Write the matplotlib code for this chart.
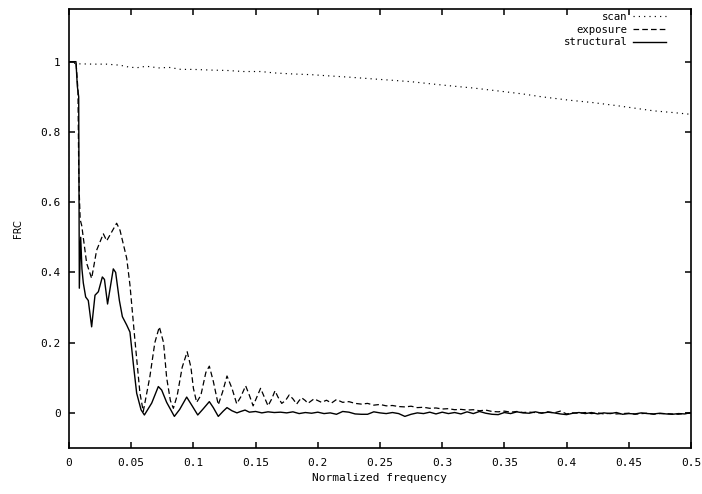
import matplotlib
matplotlib.use("Agg")
import matplotlib.pyplot as plt

# ---------------- data ----------------
scan_f = [0, 0.006, 0.02, 0.03, 0.041, 0.049, 0.055, 0.062, 0.073, 0.08, 0.09, 0.1,
          0.115, 0.127, 0.14, 0.154, 0.165, 0.18, 0.195, 0.207, 0.225, 0.244, 0.26,
          0.275, 0.296, 0.31, 0.325, 0.349, 0.365, 0.38, 0.403, 0.42, 0.44, 0.456,
          0.47, 0.486, 0.5]
scan_v = [1.0, 0.994, 0.993, 0.993, 0.99, 0.984, 0.983, 0.987, 0.982, 0.984, 0.978, 0.978,
          0.976, 0.975, 0.972, 0.972, 0.968, 0.965, 0.963, 0.96, 0.956, 0.951, 0.947,
          0.943, 0.935, 0.93, 0.925, 0.915, 0.908, 0.9, 0.89, 0.884, 0.875, 0.867,
          0.86, 0.855, 0.85]

struct_f = [0, 0.0056, 0.0067, 0.0078, 0.0083, 0.0094, 0.0104, 0.0115, 0.0134, 0.0155,
            0.0182, 0.0209, 0.0236, 0.0268, 0.0285, 0.031, 0.0356, 0.0375, 0.0405, 0.0429,
            0.0464, 0.049, 0.0517, 0.0544, 0.0579, 0.0606, 0.0665, 0.0718, 0.0745, 0.0785,
            0.0847, 0.089, 0.0946, 0.099, 0.1035, 0.108, 0.1128, 0.116, 0.12, 0.124,
            0.127, 0.131, 0.135, 0.138, 0.1415, 0.145,
            0.15, 0.155, 0.16, 0.165, 0.17, 0.175, 0.18, 0.185, 0.19, 0.195,
            0.2, 0.205, 0.21, 0.215, 0.22, 0.225, 0.23, 0.235, 0.24, 0.245,
            0.25, 0.255, 0.26, 0.265, 0.27, 0.275, 0.28, 0.285, 0.29, 0.295,
            0.3, 0.305, 0.31, 0.315, 0.32, 0.325, 0.33, 0.335, 0.34, 0.345,
            0.35, 0.355, 0.36, 0.365, 0.37, 0.375, 0.38, 0.385, 0.39, 0.395,
            0.4, 0.405, 0.41, 0.415, 0.42, 0.425, 0.43, 0.435, 0.44, 0.445,
            0.45, 0.455, 0.46, 0.465, 0.47, 0.475, 0.48, 0.485, 0.49, 0.495, 0.5]
struct_v = [1.0, 1.0, 0.93, 0.90, 0.355, 0.50, 0.41, 0.37, 0.33, 0.32,
            0.245, 0.335, 0.345, 0.387, 0.38, 0.31, 0.41, 0.40, 0.32, 0.274,
            0.25, 0.23, 0.14, 0.056, 0.009, -0.006, 0.028, 0.075, 0.065, 0.03,
            -0.01, 0.01, 0.045, 0.02, -0.006, 0.012, 0.032, 0.015, -0.01, 0.005,
            0.015, 0.006, 0.0, 0.004, 0.008, 0.002,
            0.004, 0.0, 0.003, 0.001, 0.002, 0.0, 0.003, -0.002, 0.001, -0.001,
            0.002, -0.002, 0.0, -0.004, 0.004, 0.002, -0.003, -0.004, -0.004, 0.003,
            0.0, -0.002, 0.001, -0.002, -0.01, -0.004, 0.0, -0.002, 0.002, -0.003,
            0.002, -0.002, 0.001, -0.003, 0.003, -0.002, 0.004, -0.001, -0.004, -0.005,
            0.001, -0.002, 0.003, 0.0, -0.001, 0.003, -0.001, 0.002, 0.0, -0.003,
            -0.005, -0.001, 0.001, -0.002, 0.001, -0.003, 0.0, -0.002, 0.001, -0.004,
            -0.002, -0.003, 0.0, -0.002, -0.003, -0.001, -0.003, -0.004, -0.002, -0.003, 0.001]

expo_f = [0, 0.0056, 0.0072, 0.0078, 0.0083, 0.009, 0.0102, 0.0142, 0.0182, 0.0222,
          0.0276, 0.0303, 0.0383, 0.041, 0.0464, 0.049, 0.053, 0.057, 0.0597, 0.065,
          0.069, 0.0726, 0.076, 0.0785, 0.0815, 0.0839, 0.087, 0.091, 0.095, 0.098,
          0.1, 0.1026, 0.106, 0.11, 0.1128, 0.116, 0.12, 0.1235, 0.127, 0.131,
          0.1348, 0.138, 0.142, 0.145, 0.148, 0.151, 0.154, 0.157, 0.16, 0.163,
          0.1656, 0.168, 0.171, 0.174, 0.177, 0.18, 0.183, 0.185, 0.187, 0.19,
          0.192, 0.195, 0.197, 0.2, 0.203, 0.205, 0.207, 0.209, 0.211, 0.213,
          0.215, 0.218, 0.22,
          0.225, 0.23, 0.235, 0.24, 0.245, 0.25, 0.255, 0.26, 0.265, 0.27,
          0.275, 0.28, 0.285, 0.29, 0.295, 0.3, 0.305, 0.31, 0.315, 0.32,
          0.325, 0.33, 0.335, 0.34, 0.345, 0.35, 0.355, 0.36, 0.365, 0.37,
          0.375, 0.38, 0.385, 0.39, 0.395, 0.4, 0.405, 0.41, 0.415, 0.42,
          0.425, 0.43, 0.435, 0.44, 0.445, 0.45, 0.455, 0.46, 0.465, 0.47,
          0.475, 0.48, 0.485, 0.49, 0.495, 0.5]
expo_v = [1.0, 1.0, 0.92, 0.70, 0.62, 0.55, 0.534, 0.426, 0.383, 0.463,
          0.51, 0.49, 0.54, 0.52, 0.44, 0.364, 0.207, 0.057, 0.004, 0.103,
          0.2, 0.245, 0.2, 0.10, 0.035, 0.013, 0.05, 0.13, 0.174, 0.13,
          0.07, 0.03, 0.05, 0.115, 0.133, 0.09, 0.023, 0.06, 0.105, 0.07,
          0.026, 0.045, 0.077, 0.05, 0.02, 0.045, 0.07, 0.045, 0.02, 0.04,
          0.063, 0.045, 0.027, 0.035, 0.051, 0.04, 0.025, 0.035, 0.043, 0.035,
          0.027, 0.035, 0.04, 0.035, 0.03, 0.033, 0.036, 0.032, 0.028, 0.033,
          0.038, 0.033, 0.03,
          0.032, 0.027, 0.025, 0.027, 0.022, 0.024, 0.02, 0.021, 0.018, 0.017,
          0.019, 0.015, 0.016, 0.013, 0.014, 0.011, 0.012, 0.009, 0.01, 0.008,
          0.009, 0.006, 0.008, 0.004, 0.003, 0.005, 0.002, 0.004, 0.001, 0.002,
          0.001, 0.0, 0.003, 0.0, 0.005, -0.003, 0.0, -0.001, 0.001, -0.002,
          0.0, -0.003, -0.001, -0.003, -0.002, -0.001, -0.004, -0.002, -0.001, -0.004,
          -0.002, -0.002, -0.003, -0.004, -0.001, 0.0]

x_ticks = [0, 0.05, 0.1, 0.15, 0.2, 0.25, 0.3, 0.35, 0.4, 0.45, 0.5]
x_tick_labels = ["0", "0.05", "0.1", "0.15", "0.2", "0.25", "0.3", "0.35", "0.4", "0.45", "0.5"]
y_ticks = [0, 0.2, 0.4, 0.6, 0.8, 1.0]
y_tick_labels = ["0", "0.2", "0.4", "0.6", "0.8", "1"]

# ---------------- figure ----------------
mono = "DejaVu Sans Mono"
fig = plt.figure(figsize=(7.02, 4.94), dpi=100)
ax = fig.add_axes([69 / 702, 1 - 448 / 494, 622 / 702, 439 / 494])

ax.plot(scan_f, scan_v, color="black", lw=0.85, ls=(0, (1, 3.5)), label="scan")
ax.plot(expo_f, expo_v, color="black", lw=0.9, ls=(0, (4.5, 2.5)), label="exposure")
ax.plot(struct_f, struct_v, color="black", lw=1.0, ls="-", label="structural")

ax.set_xlim(0, 0.5)
ax.set_ylim(-0.1, 1.15)
ax.set_xticks(x_ticks)
ax.set_xticklabels(x_tick_labels, fontfamily=mono, fontsize=8)
ax.set_yticks(y_ticks)
ax.set_yticklabels(y_tick_labels, fontfamily=mono, fontsize=8)
ax.tick_params(direction="in", length=4.5, width=1.1, top=True, right=True,
               pad=7, colors="black")
ax.tick_params(axis="y", pad=6)
for s in ax.spines.values():
    s.set_linewidth(1.2)

ax.set_xlabel("Normalized frequency", fontfamily=mono, fontsize=8)
ax.xaxis.set_label_coords(0.5, -0.058)
ax.set_ylabel("FRC", fontfamily="DejaVu Sans", fontsize=7)
ax.yaxis.set_label_coords(-0.074, 0.5)

leg = ax.legend(loc="upper right", bbox_to_anchor=(0.963, 0.998), frameon=False,
                markerfirst=False, handlelength=3.1, handletextpad=0.5,
                labelspacing=0.25, borderpad=0.2, borderaxespad=0,
                prop={"family": mono, "size": 7.7})

fig.savefig("out.png", dpi=100)
